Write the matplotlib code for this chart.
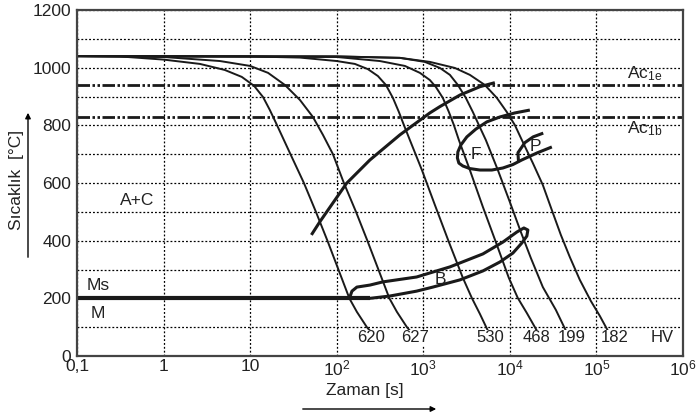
import matplotlib.pyplot as plt
from matplotlib.ticker import NullLocator

plt.rcParams['font.family'] = ['Liberation Sans', 'DejaVu Sans']
plt.rcParams['mathtext.default'] = 'regular'

# cooling curves: time [s], temperature [C]
curve_620_t = [0.1, 0.31, 1.0, 2.63, 5.1, 8.0, 11.1, 14.1, 16.9, 19.9, 28.8, 41.8, 57.5, 78.1, 104.6, 140, 171, 223, 255]
curve_620_T = [1040, 1039, 1028, 1013, 992, 968, 937, 898, 853, 808, 704, 600, 500, 400, 300, 200, 153, 100, 80]
curve_627_t = [0.1, 1.0, 4.48, 10, 16.1, 25.2, 37.6, 53.1, 69.3, 90.4, 121, 167, 226, 303, 406, 496, 647, 738]
curve_627_T = [1040, 1037, 1023, 1006, 982, 940, 888, 829, 767, 700, 600, 500, 400, 300, 200, 153, 100, 80]
curve_530_t = [0.1, 10, 37.6, 100, 162, 229, 299, 370, 446, 523, 597, 700, 964, 1361, 1977, 2866, 3640, 4508, 5570]
curve_530_T = [1040, 1039, 1035, 1023, 1013, 995, 971, 940, 895, 846, 801, 749, 645, 524, 395, 271, 201, 146, 88]
curve_468_t = [0.1, 100, 315, 613, 914, 1192, 1397, 1683, 1977, 2256, 2577, 3452, 4879, 6890, 9730, 12360, 15710, 20500]
curve_468_T = [1040, 1037, 1023, 1006, 982, 957, 933, 895, 846, 801, 749, 645, 517, 395, 271, 201, 149, 88]
curve_199_t = [0.1, 100, 537, 1043, 1556, 2030, 2510, 3103, 3740, 4385, 5280, 7265, 10000, 13400, 17470, 24040, 33980, 44350]
curve_199_T = [1040, 1039, 1034, 1020, 999, 975, 940, 895, 846, 801, 749, 645, 534, 430, 340, 239, 160, 88]
curve_182_t = [0.1, 100, 537, 1192, 2317, 3452, 5140, 7080, 9230, 11420, 13760, 18440, 24040, 30550, 38810,
               49300, 64300, 86100, 109400, 135400]
curve_182_T = [1040, 1039, 1034, 1020, 999, 975, 940, 895, 846, 801, 749, 669, 593, 506, 420,
               343, 264, 191, 139, 88]

# transformation regions
f_start_t = [51, 64, 130, 242, 537, 1190, 1556, 2650, 4510, 6710]
f_start_T = [420, 466, 599, 680, 767, 843, 865, 905, 934, 948]
f_loop_t = [17020, 11420, 7670, 5420, 4050, 3187, 2718, 2510, 2477, 2577, 2866, 3452, 4508, 6195,
            8300, 10840, 13760, 20500, 30550]
f_loop_T = [853, 843, 829, 812, 787, 760, 732, 708, 687, 669, 659, 650, 645, 645,
            652, 664, 680, 704, 725]
p_t = [12600, 12400, 14900, 18600, 24300]
p_T = [672, 705, 740, 760, 773]
b_t = [142, 150, 171, 242, 341, 837, 2030, 4880, 8300, 12050, 14520, 16140, 15710, 13760,
       10840, 7670, 4880, 2650, 1290, 838, 411, 242]
b_T = [205, 225, 239, 246, 257, 274, 309, 354, 395, 430, 444, 437, 416, 392,
       357, 326, 295, 264, 239, 225, 208, 200]
ms_t = [0.1, 240]
ms_T = [200, 200]

ac1e = 940
ac1b = 830

hv_labels = ['620', '627', '530', '468', '199', '182', 'HV']
hv_t = [248, 800, 5875, 20500, 52000, 163000, 569000]
hv_T = 63

xticks = [0.1, 1, 10, 1e2, 1e3, 1e4, 1e5, 1e6]
xticklabels = ['0,1', '1', '10', '$10^{2}$', '$10^{3}$', '$10^{4}$', '$10^{5}$', '$10^{6}$']

W, H = 697, 417
fig = plt.figure(figsize=(W / 100, H / 100), dpi=100)
ax = fig.add_axes([77 / W, 1 - 356 / H, (683 - 77) / W, (356 - 10) / H])
ax.set_xscale('log')
ax.set_xlim(0.1, 1e6)
ax.set_ylim(0, 1200)

ax.set_xticks(xticks)
ax.set_xticklabels(xticklabels)
ax.xaxis.set_minor_locator(NullLocator())
ax.set_yticks(range(0, 1201, 200))
ax.set_yticks(range(100, 1200, 200), minor=True)
ax.tick_params(which='both', length=0, labelsize=12.5, colors='#222222')
ax.tick_params(axis='y', pad=4)
ax.tick_params(axis='x', pad=2)

dot = (0, (1.5, 1.6))
ax.grid(True, axis='y', which='both', ls=dot, color='black', lw=0.9)
ax.grid(True, axis='x', which='major', ls=dot, color='black', lw=0.9)
for s in ax.spines.values():
    s.set_color('#444444')
    s.set_linewidth(1.6)

lc = '#1a1a1a'
for t, T in [(curve_620_t, curve_620_T), (curve_627_t, curve_627_T), (curve_530_t, curve_530_T),
             (curve_468_t, curve_468_T), (curve_199_t, curve_199_T), (curve_182_t, curve_182_T)]:
    ax.plot(t, T, color=lc, lw=1.4, solid_joinstyle='round')

dashdot = (0, (4.5, 0.9, 0.9, 0.9, 0.9, 0.9))
ax.axhline(ac1e, color=lc, lw=2, ls=dashdot, dash_capstyle='butt')
ax.axhline(ac1b, color=lc, lw=2, ls=dashdot, dash_capstyle='butt')

ax.plot(f_start_t, f_start_T, color=lc, lw=2.2, solid_joinstyle='round', solid_capstyle='butt')
ax.plot(f_loop_t, f_loop_T, color=lc, lw=2.2, solid_joinstyle='round', solid_capstyle='butt')
ax.plot(p_t, p_T, color=lc, lw=2.2, solid_joinstyle='round', solid_capstyle='butt')
ax.plot(b_t, b_T, color=lc, lw=2.2, solid_joinstyle='round')
ax.plot(ms_t, ms_T, color=lc, lw=3.0, solid_capstyle='butt')

fs = 12.5
ax.text(0.49, 541, 'A+C', fontsize=fs, ha='center', va='center', color='#222222')
ax.text(0.13, 246, 'Ms', fontsize=fs, ha='left', va='center', color='#222222')
ax.text(0.145, 146, 'M', fontsize=fs, ha='left', va='center', color='#222222')
ax.text(1556, 265, 'B', fontsize=fs, ha='center', va='center', color='#222222')
ax.text(4018, 699, 'F', fontsize=fs, ha='center', va='center', color='#222222')
ax.text(19950, 728, 'P', fontsize=fs, ha='center', va='center', color='#222222')
ax.text(224000, 978, '$Ac_{1e}$', fontsize=fs, ha='left', va='center', color='#222222')
ax.text(224000, 787, '$Ac_{1b}$', fontsize=fs, ha='left', va='center', color='#222222')
for lab, t in zip(hv_labels, hv_t):
    ax.text(t, hv_T, lab, fontsize=12, ha='center', va='center', color='#222222',
            bbox=dict(facecolor='white', edgecolor='none', pad=0.5))

fig.text(17 / W, 1 - 180 / H, 'Sıcaklık  [°C]', rotation=90, fontsize=fs,
         ha='center', va='center', color='#222222')
ax.annotate('', xy=(28 / W, 1 - 110 / H), xytext=(28 / W, 1 - 260 / H),
            xycoords='figure fraction', textcoords='figure fraction',
            arrowprops=dict(arrowstyle='-|>', lw=1, color='black', mutation_scale=8))
fig.text(365 / W, 1 - 391 / H, 'Zaman [s]', fontsize=fs, ha='center', va='center', color='#222222')
ax.annotate('', xy=(439 / W, 1 - 409 / H), xytext=(300 / W, 1 - 409 / H),
            xycoords='figure fraction', textcoords='figure fraction',
            arrowprops=dict(arrowstyle='-|>', lw=1, color='black', mutation_scale=8))

fig.savefig('out.png', dpi=100)
